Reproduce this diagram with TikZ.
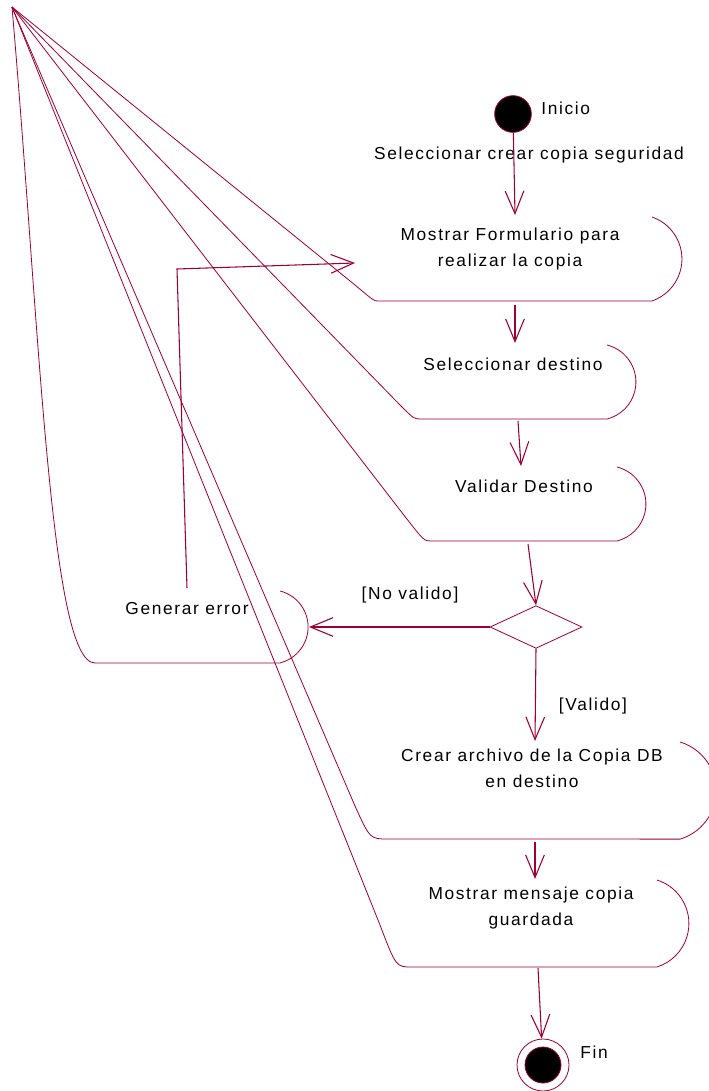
\documentclass[tikz,border=0pt]{standalone}
\usepackage{fontspec}
\setmainfont{Liberation Sans}[LetterSpace=9.5]
\usetikzlibrary{arrows.meta,shapes.geometric}
\definecolor{rosered}{RGB}{153,0,51}

\begin{document}
\begin{tikzpicture}[x=0.75pt,y=-0.75pt,line width=.6pt,font=\fontsize{13}{19.5}\selectfont,
  outline/.style={draw=rosered,line width=.6pt},
  flow/.style={draw=rosered,line width=.8pt,-{Straight Barb[length=17pt,width=14pt]}},
  txt/.style={inner sep=0pt,align=center,text=black},
  initial/.style={circle,fill=black,draw=rosered,minimum size=27.5pt,inner sep=0pt},
  final/.style={circle,draw=rosered,minimum size=39pt,inner sep=0pt},
  choice/.style={diamond,draw=rosered,minimum width=69pt,minimum height=32pt,inner sep=0pt}]
\useasboundingbox (0,0) rectangle (708,1091);
\coordinate (apex) at (12,7);
% activity outlines
\draw[outline] (652,217) arc[start angle=71,end angle=-71,radius=33.3pt] -- (378,301) .. controls (374,301) .. (355,285) -- (apex);
\draw[outline] (607,345) arc[start angle=76,end angle=-76,radius=28.6pt] -- (421,419) .. controls (414,419) .. (400,405) -- (apex);
\draw[outline] (617,467) arc[start angle=76,end angle=-76,radius=28.6pt] -- (431,541) .. controls (424,541) .. (403,514) -- (apex);
\draw[outline] (280,591) arc[start angle=76,end angle=-76,radius=27.8pt] -- (95,663) .. controls (50,663) and (40,330) .. (apex);
\draw[outline] (680,742) arc[start angle=73.4,end angle=-73.4,radius=38pt] -- (388,839) .. controls (370,839) .. (355,806) -- (apex);
\draw[outline] (657,880) arc[start angle=72.5,end angle=-72.5,radius=34.2pt] -- (412,967) .. controls (396,967) .. (380,925) -- (apex);
% states
\node[initial] (inicio) at (513,114) {};
\node[choice] (decision) at (536,627) {};
\node[final] (fin) at (543,1065) {};
\fill[black,draw=rosered] (fin.center) circle (13.5pt);
% texts
\node[txt,anchor=base west] (lblInicio) at (541,115) {Inicio};
\node[txt,anchor=base] (lblSel) at (529,160) {Seleccionar crear copia seguridad};
\node[txt] (form) at (510,249.5) {Mostrar Formulario para\\realizar la copia};
\node[txt,anchor=base] (sel) at (513,370) {Seleccionar destino};
\node[txt,anchor=base] (val) at (524,492) {Validar Destino};
\node[txt,anchor=base] (err) at (187,614) {Generar error};
\node[txt,anchor=base] (lblNo) at (410,599) {[No valido]};
\node[txt,anchor=base] (lblSi) at (593,710) {[Valido]};
\node[txt] (crear) at (532,768.7) {Crear archivo de la Copia DB\\en destino};
\node[txt] (msg) at (531,908.5) {Mostrar mensaje copia\\guardada};
\node[txt,anchor=base west] (lblFin) at (580,1058) {Fin};
% transition ends
\coordinate (formIn) at (515,215);
\coordinate (formOut) at (515,305);
\coordinate (selIn) at (515,343);
\coordinate (selOut) at (518,421);
\coordinate (valIn) at (521,466);
\coordinate (valOut) at (528,544);
\coordinate (errIn) at (309,627);
\coordinate (errOut) at (187,588);
\coordinate (errBend) at (177,269);
\coordinate (formLeft) at (355,263);
\coordinate (crearIn) at (535,741);
\coordinate (crearOut) at (535,842);
\coordinate (msgIn) at (535,879);
\coordinate (msgOut) at (538,968);
% transitions
\draw[flow] (inicio) -- (formIn);
\draw[flow] (formOut) -- (selIn);
\draw[flow] (selOut) -- (valIn);
\draw[flow] (valOut) -- (decision.north);
\draw[flow] (decision.west) -- (errIn);
\draw[flow] (decision.south) -- (crearIn);
\draw[flow] (errOut) -- (errBend) -- (formLeft);
\draw[flow] (crearOut) -- (msgIn);
\draw[flow] (msgOut) -- (fin);
\end{tikzpicture}
\end{document}
